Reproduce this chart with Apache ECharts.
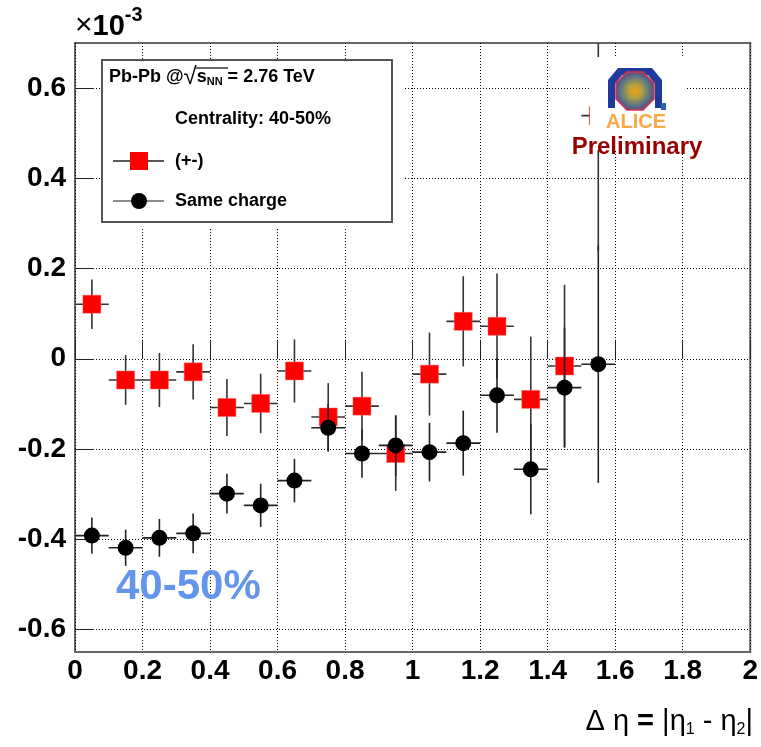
<!DOCTYPE html>
<html><head><meta charset="utf-8">
<script src="https://cdn.jsdelivr.net/npm/echarts@6/dist/echarts.min.js"></script>
<style>html,body{margin:0;padding:0;background:#fff}#c{width:761px;height:747px}</style>
</head><body><div id="c"></div>
<script>
// Bin centres in Δη
const deltaEta = [0.05,0.15,0.25,0.35,0.45,0.55,0.65,0.75,0.85,0.95,1.05,1.15,1.25,1.35,1.45,1.55];
// Opposite charge (+-), ×10^-3
const oppValues = [0.121,-0.047,-0.047,-0.029,-0.108,-0.099,-0.027,-0.129,-0.105,-0.210,-0.034,0.083,0.072,-0.090,-0.016,0.539];
const oppErrors = [0.055,0.055,0.060,0.061,0.063,0.066,0.070,0.075,0.076,0.083,0.092,0.100,0.117,0.139,0.180,0.300];
// Same charge, ×10^-3
const sameValues = [-0.392,-0.419,-0.397,-0.387,-0.299,-0.325,-0.270,-0.153,-0.210,-0.192,-0.207,-0.187,-0.081,-0.245,-0.064,-0.012];
const sameErrors = [0.040,0.040,0.042,0.044,0.044,0.048,0.048,0.053,0.054,0.067,0.065,0.072,0.083,0.100,0.133,0.263];
const binHalfWidth = 0.05;
const yTickValues = [-0.6,-0.4,-0.2,0,0.2,0.4,0.6];
const xTickValues = [0,0.2,0.4,0.6,0.8,1,1.2,1.4,1.6,1.8,2];

const FONT = 'Liberation Sans, Arial, Helvetica, sans-serif';
const chart = echarts.init(document.getElementById('c'), null, {renderer:'canvas'});

function errData(vals, errs){ return deltaEta.map((x,i)=>[x, vals[i], errs[i]]); }
function pts(vals){ return deltaEta.map((x,i)=>[x, vals[i]]); }
function makeErr(color){
  return function(params, api){
    const x = api.value(0), y = api.value(1), e = api.value(2);
    const c = api.coord([x,y]);
    const t = api.coord([x,y+e]);
    const b = api.coord([x,y-e]);
    const l = api.coord([x-binHalfWidth,y]);
    const r = api.coord([x+binHalfWidth,y]);
    return {type:'group', children:[
      {type:'line', shape:{x1:c[0],y1:t[1],x2:c[0],y2:b[1]}, style:{stroke:color,lineWidth:1.6}},
      {type:'line', shape:{x1:l[0],y1:c[1],x2:r[0],y2:c[1]}, style:{stroke:color,lineWidth:1.6}}
    ]};
  };
}

const gridLine = {show:true, lineStyle:{color:'#000', width:1, type:[1,2]}};

chart.setOption({
  animation:false,
  backgroundColor:'#fff',
  grid:{left:75, right:7, top:43, bottom:95, show:true, borderColor:'#666', borderWidth:2, backgroundColor:'transparent'},
  xAxis:{
    type:'value', min:0, max:2, interval:0.2,
    axisLine:{show:false},
    axisTick:{show:true, inside:true, length:19, customValues:xTickValues, lineStyle:{color:'#222', width:1}},
    axisLabel:{color:'#000', fontFamily:FONT, fontWeight:'bold', fontSize:28, margin:5, customValues:xTickValues,
      formatter:v=>String(Math.round(v*10)/10)},
    splitLine:gridLine
  },
  yAxis:{
    type:'value', min:-0.65, max:0.7,
    axisLine:{show:false},
    axisTick:{show:true, inside:true, length:19, customValues:yTickValues, lineStyle:{color:'#222', width:1}},
    axisLabel:{color:'#000', fontFamily:FONT, fontWeight:'bold', fontSize:28, margin:9, customValues:yTickValues,
      formatter:v=>String(Math.round(v*10)/10)},
    splitLine:gridLine
  },
  series:[
    {type:'custom', name:'(+-) errors', z:3, clip:true, renderItem:makeErr('#333'), data:errData(oppValues,oppErrors)},
    {type:'scatter', name:'(+-)', z:4, symbol:'rect', symbolSize:18, clip:true,
      itemStyle:{color:'#ff0000', borderColor:'#ff6060', borderWidth:0.5, opacity:1}, data:pts(oppValues)},
    {type:'custom', name:'Same charge errors', z:5, clip:true, renderItem:makeErr('#222'), data:errData(sameValues,sameErrors)},
    {type:'scatter', name:'Same charge', z:6, symbol:'circle', symbolSize:16, clip:true,
      itemStyle:{color:'#000', opacity:1}, data:pts(sameValues)}
  ],
  graphic:[
    // ×10^-3
    {type:'text', left:75, top:5, z:100, style:{text:'{x|×}{n|10}{e|-3}', rich:{
      x:{fontFamily:FONT, fontSize:30, fill:'#000', verticalAlign:'bottom'},
      n:{fontFamily:FONT, fontSize:29, fontWeight:'bold', fill:'#000', verticalAlign:'bottom'},
      e:{fontFamily:FONT, fontSize:20, fontWeight:'bold', fill:'#000', verticalAlign:'top', padding:[0,0,16,0]}}}},
    // Legend box
    {type:'rect', z:90, shape:{x:102, y:60, width:301, height:168}, style:{fill:'#fff'}},
    {type:'rect', z:91, shape:{x:102, y:60, width:290, height:162}, style:{fill:'#fff', stroke:'#555', lineWidth:2}},
    {type:'text', z:92, x:109, y:77, style:{text:'{a|Pb-Pb @}{r|√}{s|s}{sub|NN}{a| = 2.76 TeV}', verticalAlign:'middle', rich:{
      a:{fontFamily:FONT, fontSize:18, fontWeight:'bold', fill:'#000'},
      r:{fontFamily:FONT, fontSize:24, fill:'#000'},
      s:{fontFamily:FONT, fontSize:18, fontWeight:'bold', fill:'#000'},
      sub:{fontFamily:FONT, fontSize:11, fontWeight:'bold', fill:'#000', padding:[10,0,0,0]}}}},
    {type:'line', z:92, shape:{x1:196, y1:68, x2:228, y2:68}, style:{stroke:'#000', lineWidth:1.2}},
    {type:'text', z:92, x:175, y:119, style:{text:'Centrality: 40-50%', fontFamily:FONT, fontSize:18, fontWeight:'bold', fill:'#000', verticalAlign:'middle'}},
    {type:'line', z:92, shape:{x1:113, y1:161, x2:164, y2:161}, style:{stroke:'#222', lineWidth:1.5}},
    {type:'rect', z:93, shape:{x:130, y:152, width:18, height:18}, style:{fill:'#ff0000'}},
    {type:'text', z:92, x:175, y:161, style:{text:'(+-)', fontFamily:FONT, fontSize:18, fontWeight:'bold', fill:'#000', verticalAlign:'middle'}},
    {type:'line', z:92, shape:{x1:113, y1:201, x2:164, y2:201}, style:{stroke:'#666', lineWidth:1.5}},
    {type:'circle', z:93, shape:{cx:139, cy:201, r:8}, style:{fill:'#000'}},
    {type:'text', z:92, x:175, y:201, style:{text:'Same charge', fontFamily:FONT, fontSize:18, fontWeight:'bold', fill:'#000', verticalAlign:'middle'}},
    // ALICE logo area
    {type:'rect', z:95, shape:{x:590, y:57, width:96, height:93}, style:{fill:'#fff'}},
    {type:'polygon', z:96, shape:{points:[[608,108],[608,80],[618,68],[652,68],[662,80],[662,108],[655,108],[655,84],[648,75],[622,75],[615,84],[615,108]]}, style:{fill:'#1f3a9a'}},
    {type:'polygon', z:97, shape:{points:[[627,72],[643,72],[654,83],[654,99],[643,110],[627,110],[616,99],[616,83]]},
      style:{fill:{type:'radial', x:0.5, y:0.5, r:0.5, colorStops:[{offset:0,color:'#f6a020'},{offset:0.35,color:'#b0a040'},{offset:0.7,color:'#607a80'},{offset:1,color:'#5a4a8a'}]}, stroke:'#e0304a', lineWidth:1.5}},
    {type:'rect', z:97, shape:{x:661, y:103, width:5, height:7}, style:{fill:'#3060b0'}},
    {type:'text', z:97, x:636, y:122, style:{text:'ALICE', fontFamily:FONT, fontSize:20, fontWeight:'bold', fill:'#f8a848', align:'center', verticalAlign:'middle'}},
    {type:'text', z:97, x:637, y:147, style:{text:'Preliminary', fontFamily:FONT, fontSize:24, fontWeight:'bold', fill:'#990000', align:'center', verticalAlign:'middle'}},
    // Centrality label
    {type:'text', z:97, x:116, y:587, style:{text:'40-50%', fontFamily:FONT, fontSize:42, fontWeight:'bold', fill:'#6495ed', verticalAlign:'middle'}},
    // X axis title
    {type:'text', z:97, x:753, y:722, style:{text:'{g|Δ η }{b|=}{g| |η}{s|1}{g| - η}{s|2}{g||}', align:'right', verticalAlign:'middle', rich:{
      g:{fontFamily:FONT, fontSize:29, fill:'#000'},
      b:{fontFamily:FONT, fontSize:29, fontWeight:'bold', fill:'#000'},
      s:{fontFamily:FONT, fontSize:16, fill:'#000', padding:[16,0,0,0]}}}}
  ]
});
</script></body></html>
